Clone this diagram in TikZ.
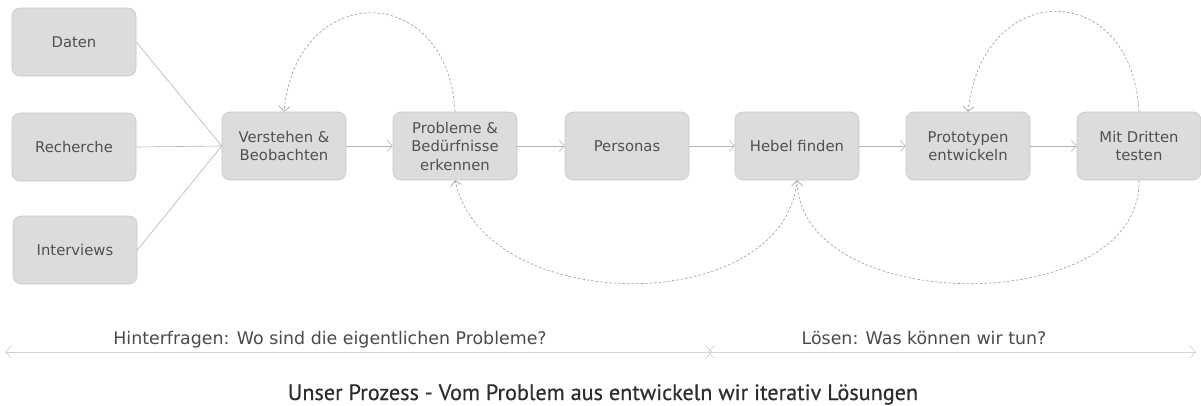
\documentclass[tikz,border=0pt]{standalone}
\usepackage{fontspec}
\setmainfont{DejaVu Sans}
\newfontfamily\titlefont[FakeBold=0.5]{PT Sans}
\usetikzlibrary{arrows.meta}
\definecolor{boxfill}{HTML}{DCDCDC}
\definecolor{boxline}{HTML}{C8C8C8}
\definecolor{txt}{HTML}{505050}
\definecolor{conn}{HTML}{B4B4B4}
\definecolor{dashc}{HTML}{9A9A9A}
\definecolor{spanc}{HTML}{D2D2D2}
\definecolor{labc}{HTML}{4A4A4A}
\definecolor{titc}{HTML}{2E2E2E}
\begin{document}
\begin{tikzpicture}[x=1pt,y=-1pt,
  stepbox/.style={draw=boxline, fill=boxfill, rounded corners=8pt, minimum width=124pt, minimum height=68pt, inner sep=0pt, align=center, text=txt, font=\fontsize{14.8}{18.5}\selectfont, line width=0.6pt},
  flow/.style={draw=conn, line width=0.7pt, -{Straight Barb[length=5pt,width=11pt,line width=0.6pt]}},
  feed/.style={draw=conn, line width=0.6pt},
  loopc/.style={draw=dashc, line width=0.6pt, dash pattern=on 2.5pt off 2pt, -{Straight Barb[length=5pt,width=11pt,line width=0.6pt]}},
  spanline/.style={draw=spanc, line width=1pt, {Straight Barb[length=6pt,width=13pt,line width=0.7pt]}-{Straight Barb[length=6pt,width=13pt,line width=0.7pt]}},
  lab/.style={text=labc, inner sep=0pt, anchor=base, font=\fontsize{17.4}{20}\selectfont},
  titl/.style={text=titc, inner sep=0pt, anchor=base, font=\titlefont\fontsize{22.2}{25}\selectfont}
]
\useasboundingbox (0,0) rectangle (1201,405);

\node[stepbox] (daten) at (74,42) {Daten};
\node[stepbox] (rech) at (74,147) {Recherche};
\node[stepbox] (inter) at (75,250) {Interviews};
\node[stepbox] (vers) at (284,146) {Verstehen \&\\Beobachten};
\node[stepbox] (prob) at (455,146) {Probleme \&\\Bedürfnisse\\erkennen};
\node[stepbox] (pers) at (627,146) {Personas};
\node[stepbox] (hebel) at (797,146) {Hebel finden};
\node[stepbox] (proto) at (968,146) {Prototypen\\entwickeln};
\node[stepbox] (test) at (1139,146) {Mit Dritten\\testen};

\draw[feed] (daten.east) -- (vers.west);
\draw[feed] (rech.east) -- (vers.west);
\draw[feed] (inter.east) -- (vers.west);

\draw[flow] (vers) -- (prob);
\draw[flow] (prob) -- (pers);
\draw[flow] (pers) -- (hebel);
\draw[flow] (hebel) -- (proto);
\draw[flow] (proto) -- (test);

\draw[loopc] (prob.north) .. controls (448,-20) and (296,-20) .. (vers.north);
\draw[loopc] (hebel.south) .. controls (785,318) and (485,318) .. (prob.south);
\draw[loopc] (test.north) .. controls (1132,-22) and (982,-22) .. (proto.north);
\draw[loopc] (test.south) .. controls (1142,318) and (800,318) .. (hebel.south);

\coordinate (sl) at (5,352);
\coordinate (sml) at (712,352);
\coordinate (smr) at (708,352);
\coordinate (sr) at (1196,352);
\draw[spanline] (sl) -- (sml);
\draw[spanline] (smr) -- (sr);

\node[lab] (q1) at (330,344) {Hinterfragen: Wo sind die eigentlichen Probleme?};
\node[lab] (q2) at (924,344) {Lösen: Was können wir tun?};
\node[titl] (title) at (603,400) {Unser Prozess - Vom Problem aus entwickeln wir iterativ Lösungen};
\end{tikzpicture}
\end{document}
